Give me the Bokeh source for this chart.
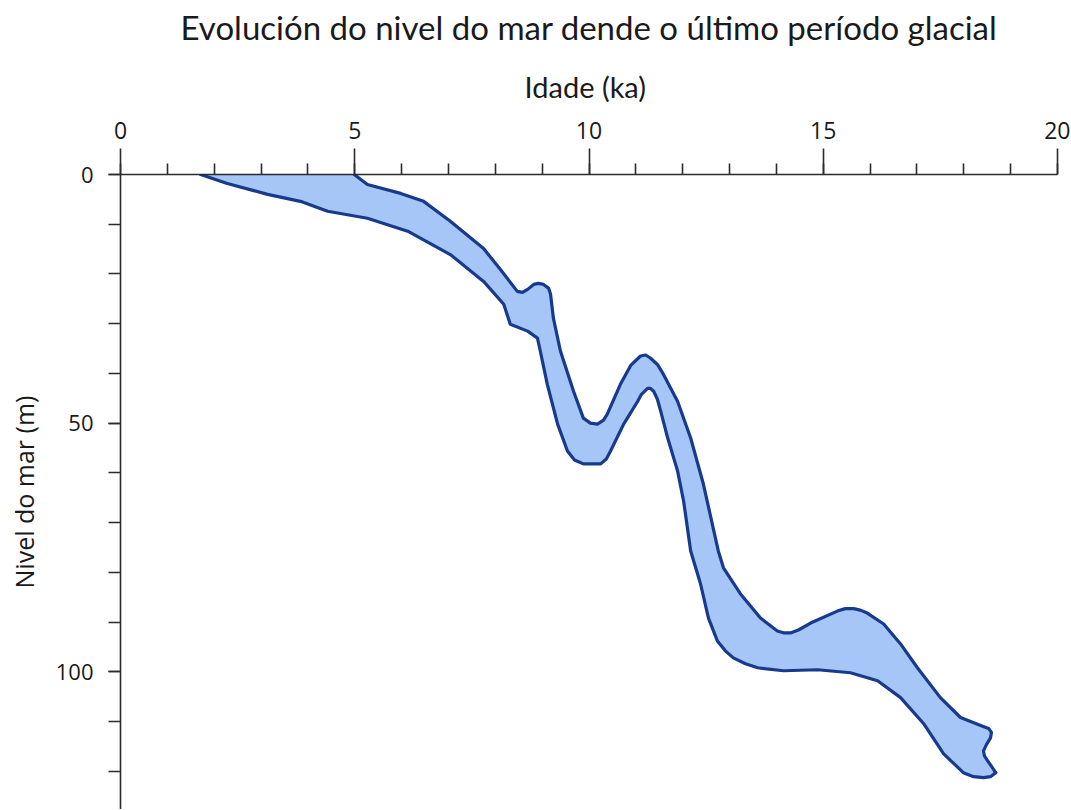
from bokeh.plotting import figure
from bokeh.models import Range1d, FixedTicker, Title
from bokeh.embed import file_html
from bokeh.resources import INLINE

title_text = "Evolución do nivel do mar dende o último período glacial"
x_label = "Idade  (ka)"
y_label = "Nivel do mar (m)"

x_major = [0, 5, 10, 15, 20]
x_minor = list(range(0, 21))
y_major = [0, 50, 100]
y_minor = list(range(0, 130, 10))

# shallow (upper) edge of the band: age (ka), sea level below present (m)
upper_age = [4.99, 5.27, 5.98, 6.47, 7.04, 7.75, 8.11, 8.47, 8.58, 8.69, 8.82, 8.92,
             9.03, 9.14, 9.18, 9.24, 9.39, 9.67, 9.88, 10.03, 10.18, 10.31, 10.39,
             10.67, 10.89, 11.10, 11.21, 11.31, 11.46, 11.59, 11.89, 12.17, 12.44,
             12.76, 12.87, 13.23, 13.66, 14.02, 14.17, 14.30, 14.47, 14.73, 15.30,
             15.47, 15.65, 15.79, 15.94, 16.29, 16.65, 17.01, 17.50, 17.93, 18.36,
             18.53, 18.59, 18.57, 18.48, 18.42, 18.44, 18.51, 18.61, 18.68]
upper_depth = [0.0, 2.0, 3.8, 5.4, 9.4, 14.9, 19.1, 23.5, 23.7, 23.1, 22.1, 21.9,
               22.1, 22.9, 24.1, 28.9, 35.5, 43.6, 49.0, 50.0, 50.2, 49.4, 48.2,
               42.2, 38.4, 36.5, 36.3, 36.9, 38.2, 40.2, 45.6, 53.0, 62.2,
               75.7, 79.1, 84.3, 89.2, 91.8, 92.2, 92.2, 91.6, 90.2, 87.8,
               87.3, 87.3, 87.6, 88.2, 90.4, 94.4, 99.2, 105.2, 109.2, 110.8,
               111.4, 112.2, 113.3, 114.7, 115.9, 116.9, 117.9, 119.3, 120.3]

# deep (lower) edge of the band
lower_age = [1.71, 2.28, 3.14, 3.84, 4.42, 5.27, 6.13, 7.04, 7.75, 8.18, 8.32, 8.69,
             8.90, 8.96, 9.11, 9.33, 9.54, 9.69, 9.88, 10.25, 10.37, 10.46, 10.74,
             11.04, 11.12, 11.25, 11.31, 11.38, 11.46, 11.53, 11.68, 11.89, 12.02,
             12.17, 12.38, 12.55, 12.74, 12.91, 13.08, 13.34, 13.60, 14.15, 14.88,
             15.58, 16.16, 16.65, 17.14, 17.57, 17.99, 18.21, 18.42, 18.57, 18.68]
lower_depth = [0.0, 1.8, 4.0, 5.4, 7.4, 8.8, 11.4, 16.1, 21.5, 26.1, 30.1, 31.5,
               32.9, 35.5, 42.2, 50.2, 55.6, 57.4, 58.2, 58.2, 57.2, 55.6, 50.2,
               45.6, 44.2, 43.0, 43.0, 43.6, 45.2, 47.6, 53.0, 59.6, 65.7,
               75.7, 82.3, 89.2, 93.8, 95.8, 97.2, 98.4, 99.2, 99.8, 99.6,
               100.2, 101.8, 105.2, 110.4, 116.5, 120.3, 121.1, 121.3, 121.1, 120.3]

FILL = "#a5c6f6"
EDGE = "#173a8c"
AX = "#2b2b2b"
HEAD = "Lato"
SANS = "Open Sans"

p = figure(width=1070, height=809, output_backend="svg", toolbar_location=None,
           title=title_text,
           x_range=Range1d(0, 20), y_range=Range1d(127.7, 0),
           x_axis_location="above",
           min_border_left=120, min_border_right=13, min_border_top=0,
           min_border_bottom=0)
p.background_fill_color = "white"
p.border_fill_color = "white"
p.outline_line_color = None
p.grid.visible = False

p.title.align = "center"
p.title.text_font = HEAD
p.title.text_font_size = "33px"
p.title.text_font_style = "normal"
p.title.text_color = "#1a1a1a"
p.title.standoff = 9

xa = p.xaxis[0]
xa.ticker = FixedTicker(ticks=x_major, minor_ticks=x_minor)
xa.major_label_text_font = SANS
xa.major_label_text_font_size = "23px"
xa.major_label_text_color = "#1a1a1a"
xa.major_label_standoff = 10
xa.major_tick_out = 26
xa.major_tick_in = 0
xa.minor_tick_out = 11
xa.minor_tick_in = 0
xa.axis_line_color = AX
xa.major_tick_line_color = AX
xa.minor_tick_line_color = AX
xa.axis_line_width = 1.6
xa.major_tick_line_width = 1.6
xa.minor_tick_line_width = 1.6

# x-axis name, set as a title band just above the top axis
p.add_layout(Title(text=x_label, align="center", text_font=HEAD,
                   text_font_size="29px", text_font_style="normal",
                   text_color="#1a1a1a", standoff=30), "above")

ya = p.yaxis[0]
ya.ticker = FixedTicker(ticks=y_major, minor_ticks=y_minor)
ya.axis_label = y_label
ya.axis_label_text_font = SANS
ya.axis_label_text_font_size = "25px"
ya.axis_label_text_font_style = "normal"
ya.axis_label_text_color = "#1a1a1a"
ya.axis_label_standoff = 12
ya.major_label_text_font = SANS
ya.major_label_text_font_size = "22px"
ya.major_label_text_color = "#1a1a1a"
ya.major_label_standoff = 15
ya.major_tick_out = 12
ya.major_tick_in = 0
ya.minor_tick_out = 12
ya.minor_tick_in = 0
ya.axis_line_color = AX
ya.major_tick_line_color = AX
ya.minor_tick_line_color = AX
ya.axis_line_width = 1.6
ya.major_tick_line_width = 1.6
ya.minor_tick_line_width = 1.6

band_x = upper_age + lower_age[::-1]
band_y = upper_depth + lower_depth[::-1]
p.patch(band_x, band_y, fill_color=FILL, line_color=None)
p.line(upper_age, upper_depth, line_color=EDGE, line_width=3.2, line_join="round", line_cap="round")
p.line(lower_age, lower_depth, line_color=EDGE, line_width=3.2, line_join="round", line_cap="round")

open("out.html", "w").write(file_html(p, INLINE))
